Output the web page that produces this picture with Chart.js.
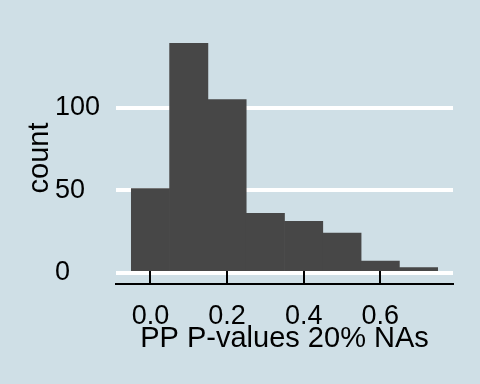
<!DOCTYPE html>
<html>
<head>
<meta charset="utf-8">
<script src="https://cdn.jsdelivr.net/npm/chart.js@4"></script>
<style>
html,body{margin:0;padding:0;background:#cfdfe6;}
canvas{display:block;}
</style>
</head>
<body>
<canvas id="c" width="480" height="384"></canvas>
<script>
const binCenters = [0, 0.1, 0.2, 0.3, 0.4, 0.5, 0.6, 0.7];
const counts = [51, 139, 105, 36, 31, 24, 7, 3];
const xTicks = [0, 0.2, 0.4, 0.6];
const xTickLabels = ['0.0', '0.2', '0.4', '0.6'];
const yTicks = [0, 50, 100];
const xTitle = 'PP P-values 20% NAs';
const yTitle = 'count';

const BG = '#cfdfe6';
const FONT = '"Liberation Sans", Arial, Helvetica, sans-serif';

const bgPlugin = {
  id: 'bg',
  beforeDraw(chart) {
    const ctx = chart.ctx;
    ctx.save();
    ctx.fillStyle = BG;
    ctx.fillRect(0, 0, chart.width, chart.height);
    ctx.restore();
  }
};

const extrasPlugin = {
  id: 'extras',
  afterDatasetsDraw(chart) {
    const ctx = chart.ctx;
    const xs = chart.scales.x;
    const bottom = chart.chartArea.bottom;
    ctx.save();
    ctx.strokeStyle = '#000';
    ctx.lineWidth = 2;
    xTicks.forEach(v => {
      const px = Math.round(xs.getPixelForValue(v));
      ctx.beginPath();
      ctx.moveTo(px, bottom - 13);
      ctx.lineTo(px, bottom);
      ctx.stroke();
    });
    ctx.restore();
  },
  afterDraw(chart) {
    const ctx = chart.ctx;
    const ca = chart.chartArea;
    ctx.save();
    ctx.fillStyle = '#000';
    ctx.font = '29px ' + FONT;
    ctx.textAlign = 'center';
    ctx.textBaseline = 'middle';
    ctx.translate(40, (ca.top + ca.bottom) / 2);
    ctx.rotate(-Math.PI / 2);
    ctx.fillText(yTitle, 0, 0);
    ctx.restore();
  }
};

new Chart(document.getElementById('c'), {
  type: 'bar',
  data: {
    datasets: [{
      data: binCenters.map((x, i) => ({x: x, y: counts[i]})),
      backgroundColor: '#474747',
      borderWidth: 0,
      barPercentage: 1.0,
      categoryPercentage: 1.0,
      grouped: false
    }]
  },
  options: {
    responsive: false,
    animation: false,
    layout: {padding: {left: 55, right: 27, top: 32, bottom: 28}},
    plugins: {legend: {display: false}, tooltip: {enabled: false}},
    scales: {
      x: {
        type: 'linear',
        offset: false,
        min: -0.09,
        max: 0.79,
        afterBuildTicks: s => { s.ticks = xTicks.map(v => ({value: v})); },
        afterFit: s => { s.height = 72; },
        ticks: {
          color: '#000',
          font: {family: FONT, size: 27},
          padding: 16,
          maxRotation: 0,
          autoSkip: false,
          callback: (v) => { const i = xTicks.indexOf(v); return i >= 0 ? xTickLabels[i] : ''; }
        },
        grid: {display: false, drawTicks: false, offset: false},
        border: {display: true, color: '#000', width: 2},
        title: {display: true, text: xTitle, color: '#000', font: {family: FONT, size: 29}, padding: 0}
      },
      y: {
        min: -6.95,
        max: 145.95,
        afterBuildTicks: s => { s.ticks = yTicks.map(v => ({value: v})); },
        afterFit: s => { s.width = 61; },
        ticks: {
          color: '#000',
          font: {family: FONT, size: 27},
          crossAlign: 'far',
          padding: 0
        },
        grid: {color: '#ffffff', lineWidth: 4, drawTicks: false, tickLength: 0},
        border: {display: false}
      }
    }
  },
  plugins: [bgPlugin, extrasPlugin]
});
</script>
</body>
</html>
